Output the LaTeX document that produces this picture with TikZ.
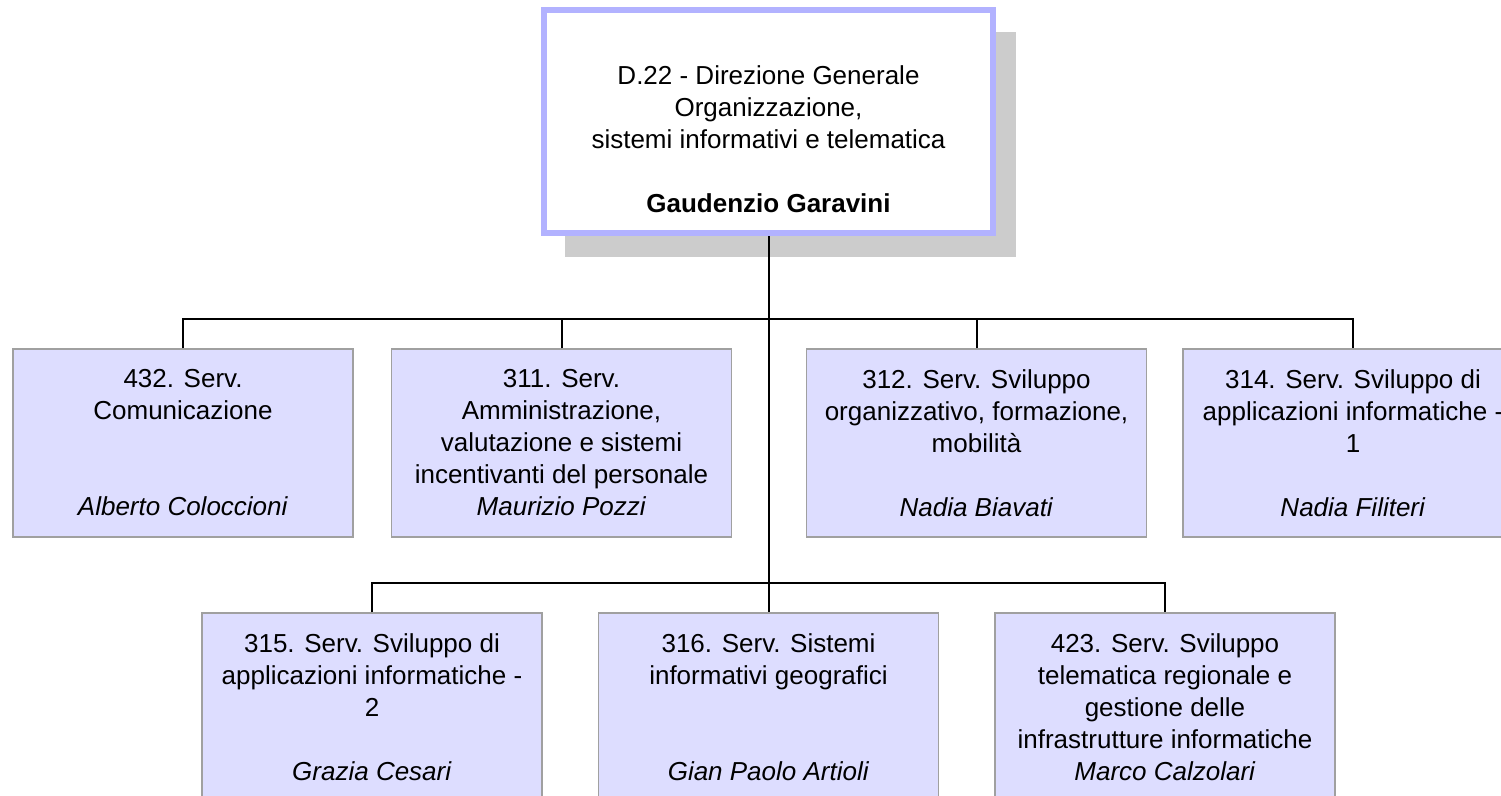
\documentclass[tikz,border=0pt]{standalone}
\usepackage{fontspec}
\setmainfont{Liberation Sans}
\usetikzlibrary{shadows}
\definecolor{boxfill}{RGB}{221,221,255}
\definecolor{boxline}{RGB}{160,160,160}
\definecolor{topline}{RGB}{178,178,255}
\definecolor{shadowgray}{RGB}{204,204,204}
\begin{document}
\begin{tikzpicture}[x=1pt,y=1pt,
  txt/.style={font=\fontsize{26}{32}\selectfont, align=center},
  unit/.style={txt, rectangle, draw=boxline, line width=1.5pt, fill=boxfill,
    minimum width=340pt, minimum height=188pt, inner sep=0pt},
  topbox/.style={txt, rectangle, draw=topline, line width=4pt, fill=white,
    minimum width=451pt, minimum height=225pt, inner sep=0pt,
    drop shadow={shadow xshift=22pt, shadow yshift=-23pt, fill=shadowgray, opacity=1}},
  link/.style={draw=black, line width=2pt}]
\useasboundingbox (0,0) rectangle (1501,-795);
\clip (0,0) rectangle (1501,-795);

\node[topbox] (top) at (768.5,-121.5) {\strut\\D.22 - Direzione Generale\\Organizzazione,\\sistemi informativi e telematica\\\strut\\\textbf{Gaudenzio Garavini}};
\draw[topline, line width=1.5pt] ([shift={(5,-5)}]top.north west) rectangle ([shift={(-5,5)}]top.south east);

\node[unit] (b1) at (183,-443) {432. Serv.\\Comunicazione\\\strut\\\strut\\\textit{Alberto Coloccioni}};
\node[unit] (b2) at (561.5,-443) {311. Serv.\\Amministrazione,\\valutazione e sistemi\\incentivanti del personale\\\textit{Maurizio Pozzi}};
\node[unit] (b3) at (976.5,-443) {312. Serv. Sviluppo\\organizzativo, formazione,\\mobilità\\\strut\\\textit{Nadia Biavati}};
\node[unit] (b4) at (1353,-443) {314. Serv. Sviluppo di\\applicazioni informatiche -\\1\\\strut\\\textit{Nadia Filiteri}};

\node[unit] (b5) at (372,-707) {315. Serv. Sviluppo di\\applicazioni informatiche -\\2\\\strut\\\textit{Grazia Cesari}};
\node[unit] (b6) at (768.5,-707) {316. Serv. Sistemi\\informativi geografici\\\strut\\\strut\\\textit{Gian Paolo Artioli}};
\node[unit] (b7) at (1165,-707) {423. Serv. Sviluppo\\telematica regionale e\\gestione delle\\infrastrutture informatiche\\\textit{Marco Calzolari}};

\draw[link] (top.south) -- (b6.north);
\draw[link] (b1.north) -- ++(0,29) -| (b4.north);
\draw[link] (b2.north) -- ++(0,29);
\draw[link] (b3.north) -- ++(0,29);
\draw[link] (b5.north) -- ++(0,29) -| (b7.north);
\end{tikzpicture}
\end{document}
